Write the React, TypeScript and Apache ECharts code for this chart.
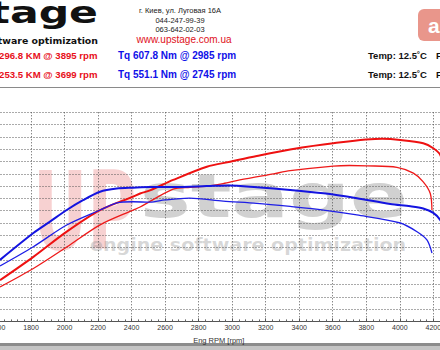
import React, { useEffect, useRef } from "react";
import * as echarts from "echarts";

// ---- data ----
const tunedPwRpm = [1615, 1814, 2013, 2212, 2409, 2451, 2510, 2648, 2849, 2988, 3147, 3346, 3603, 3895, 4003, 4140, 4200, 4242, 4270];
const tunedPw = [67, 105, 146, 181, 203, 208, 213, 230, 251.5, 259.7, 269, 279.5, 289.6, 296.8, 295, 289.6, 281.5, 270.6, 240];

const stockPwRpm = [1615, 1814, 2013, 2212, 2409, 2451, 2648, 2749, 2849, 2946, 3046, 3247, 3346, 3603, 3699, 3804, 3983, 4081, 4140, 4182, 4192];
const stockPw = [56, 86, 121, 157, 181, 186, 215, 218, 220, 224, 230, 240, 245, 252.5, 253.5, 253, 250.5, 241, 227, 208, 181];

const tunedTqRpm = [1615, 1814, 1913, 2013, 2110, 2212, 2312, 2409, 2510, 2648, 2849, 2985, 3147, 3346, 3545, 3744, 3943, 4063, 4140, 4200, 4242, 4270];
const tunedTq = [275, 395, 446, 498, 542, 580, 594, 598, 601, 601, 605, 607.8, 600, 588, 573, 551, 525, 515, 505, 485, 453, 410];

const stockTqRpm = [1615, 1814, 2013, 2212, 2312, 2409, 2510, 2600, 2745, 2946, 3147, 3346, 3545, 3744, 4003, 4103, 4162, 4192];
const stockTq = [248, 334, 431, 498, 530, 535, 533, 543, 551.1, 538, 528, 514, 498, 476, 440, 401, 364, 306];

const headerPower = ["296.8 KM @ 3895 rpm", "253.5 KM @ 3699 rpm"];
const headerTorque = ["Tq 607.8 Nm @ 2985 rpm", "Tq 551.1 Nm @ 2745 rpm"];
const headerTemp = ["Temp: 12.5˚C", "Temp: 12.5˚C"];
const addressLines = ["г. Киев, ул. Луговая 16А", "044-247-99-39", "063-642-02-03"];
const siteUrl = "www.upstage.com.ua";

const pairs = (xs: number[], ys: number[]) => xs.map((x, i) => [x, ys[i]]);

const SANS = "Liberation Sans, Arial, sans-serif";
const DEJA = "DejaVu Sans, sans-serif";

export default function App() {
  const ref = useRef<HTMLDivElement>(null);
  useEffect(() => {
    if (!ref.current) return;
    const chart = echarts.init(ref.current, undefined, { renderer: "svg" });
    const rowY = [55, 74];
    const graphic: any[] = [
      // watermark
      { type: "text", z: -5, x: 33, y: 212, scaleX: 0.62, style: { text: "UP", fill: "rgba(225,90,90,0.28)", font: `bold 108px ${DEJA}`, verticalAlign: "middle", align: "left" } },
      { type: "text", z: -5, x: 140, y: 196, scaleX: 1.42, style: { text: "stage", fill: "rgba(140,140,140,0.4)", font: `bold 60px ${DEJA}`, verticalAlign: "middle", align: "left" } },
      { type: "text", z: -5, x: 90, y: 245, scaleX: 1.06, style: { text: "engine software optimization", fill: "rgba(140,140,140,0.35)", font: `bold 18px ${DEJA}`, verticalAlign: "middle", align: "left" } },
      // top-left logo
      { type: "text", x: 98, y: 13, scaleX: 1.42, style: { text: "stage", fill: "#111", font: `bold 30px ${DEJA}`, verticalAlign: "middle", align: "right" } },
      { type: "text", x: 98, y: 40, style: { text: "software optimization", fill: "#111", font: `bold 9.4px ${DEJA}`, verticalAlign: "middle", align: "right" } },
      // address block
      ...addressLines.map((t, i) => ({ type: "text", x: 180, y: [10, 20, 29][i], style: { text: t, fill: "#222", font: `7.5px ${SANS}`, align: "center", verticalAlign: "middle" } })),
      { type: "text", x: 184, y: 39, style: { text: siteUrl, fill: "#e0101a", font: `10px ${SANS}`, align: "center", verticalAlign: "middle" } },
      // header values
      ...headerPower.map((t, i) => ({ type: "text", x: 97.5, y: rowY[i], style: { text: t, fill: "#e8101a", font: `bold 9.6px ${SANS}`, align: "right", verticalAlign: "middle" } })),
      ...headerTorque.map((t, i) => ({ type: "text", x: 118, y: rowY[i], style: { text: t, fill: "#1010e8", font: `bold 10px ${SANS}`, align: "left", verticalAlign: "middle" } })),
      ...headerTemp.map((t, i) => ({ type: "text", x: 368, y: rowY[i], style: { text: t, fill: "#111", font: `bold 9.5px ${SANS}`, align: "left", verticalAlign: "middle" } })),
      ...rowY.map((y) => ({ type: "text", x: 436, y, style: { text: "F", fill: "#111", font: `bold 9.5px ${SANS}`, align: "left", verticalAlign: "middle" } })),
      // "au" badge
      { type: "rect", shape: { x: 418, y: 9, width: 40, height: 32, r: 6 }, style: { fill: "#e9968b" } },
      { type: "text", x: 428, y: 25, style: { text: "au", fill: "#fff", font: `bold 21px ${SANS}`, align: "left", verticalAlign: "middle" } },
      // separators
      { type: "line", shape: { x1: 0, y1: 87.5, x2: 440, y2: 87.5 }, style: { stroke: "#8a8a8a", lineWidth: 1 } },
      { type: "rect", shape: { x: 0, y: 343, width: 440, height: 3 }, style: { fill: "#8c8c8c" } },
      { type: "rect", shape: { x: 0, y: 346, width: 440, height: 4 }, style: { fill: "#c4c4c4" } },
    ];

    const dotted = { type: [1, 2] as any, color: "#555", width: 1 };
    chart.setOption({
      animation: false,
      backgroundColor: "#fff",
      grid: { left: -2.5, right: 0, top: 112.3, bottom: 28.6, containLabel: false, outerBoundsMode: "none" },
      xAxis: {
        type: "value",
        min: 1600,
        max: 4240,
        interval: 200,
        axisLine: { lineStyle: { color: "#555", width: 1 } },
        axisTick: { inside: true, length: 3, lineStyle: { color: "#555" } },
        minorTick: { show: true, splitNumber: 5, length: 2, lineStyle: { color: "#666" } },
        axisLabel: { fontSize: 7, color: "#333", margin: 3, showMaxLabel: false, fontFamily: SANS, formatter: (v: number) => String(v) },
        splitLine: { show: true, lineStyle: dotted },
        name: "Eng RPM [rpm]",
        nameLocation: "middle",
        nameGap: 13,
        nameTextStyle: { fontSize: 7.5, color: "#333", fontFamily: SANS },
      },
      yAxis: [
        {
          type: "value",
          min: 0,
          max: 340,
          interval: 20,
          axisLine: { show: false },
          axisTick: { show: false },
          axisLabel: { show: false },
          splitLine: { show: true, lineStyle: dotted },
        },
        { type: "value", min: 0, max: 935, interval: 55, show: false, splitLine: { show: false } },
      ],
      graphic: { elements: graphic },
      series: [
        { type: "line", yAxisIndex: 0, data: pairs(tunedPwRpm, tunedPw), smooth: 0.3, showSymbol: false, lineStyle: { color: "#ee1111", width: 2 }, clip: true },
        { type: "line", yAxisIndex: 0, data: pairs(stockPwRpm, stockPw), smooth: 0.3, showSymbol: false, lineStyle: { color: "#ee1a1a", width: 1.3 }, clip: true },
        { type: "line", yAxisIndex: 1, data: pairs(tunedTqRpm, tunedTq), smooth: 0.3, showSymbol: false, lineStyle: { color: "#1414e0", width: 2 }, clip: true },
        { type: "line", yAxisIndex: 1, data: pairs(stockTqRpm, stockTq), smooth: 0.3, showSymbol: false, lineStyle: { color: "#1e1ee6", width: 1.3 }, clip: true },
      ],
    });
    return () => chart.dispose();
  }, []);
  return <div ref={ref} style={{ position: "fixed", left: 0, top: 0, width: 440, height: 350, background: "#fff" }} />;
}
